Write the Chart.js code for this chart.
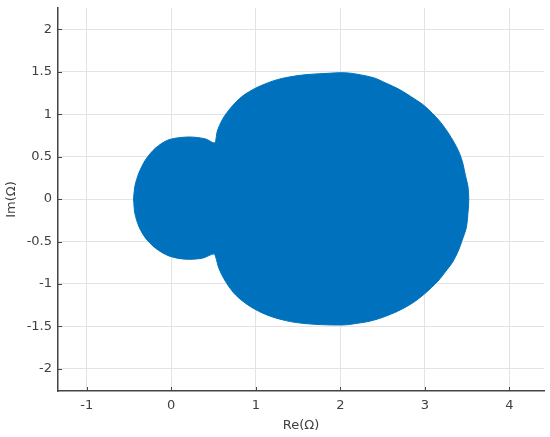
<!DOCTYPE html>
<html lang="en">
<head>
    <meta charset="UTF-8">
    <title>Re(Ω) / Im(Ω)</title>
    <script src="https://cdn.jsdelivr.net/npm/chart.js"></script>
    <style>
        body { margin: 0; padding: 0; background: #ffffff; }
        .chart-box { width: 550px; height: 437px; }
    </style>
</head>
<body>
    <div class="chart-box">
        <canvas id="omegaChart"></canvas>
    </div>

    <script>
        // Outline of the filled region (clockwise from the left end)
        const outlineRe = [
            -0.446, -0.431, -0.383, -0.304, -0.186, -0.028, 0.208, 0.406, 0.504, 0.524,
            0.544, 0.604, 0.702, 0.840, 1.018, 1.254, 1.530, 1.806, 2.083, 2.39,
            2.53, 2.70, 2.83, 2.98, 3.09, 3.19, 3.27, 3.35, 3.41, 3.45, 3.48, 3.51, 3.52,
            3.51, 3.49, 3.44, 3.40, 3.33, 3.24, 3.17, 3.08, 2.98, 2.86, 2.74, 2.61,
            2.48, 2.34, 2.22, 2.043, 1.688, 1.412, 1.155, 0.938, 0.761, 0.643, 0.563, 0.524,
            0.504, 0.367, 0.169, -0.028, -0.186, -0.304, -0.383, -0.431, -0.446
        ];
        const outlineIm = [
            0, 0.149, 0.307, 0.463, 0.601, 0.699, 0.731, 0.708, 0.660, 0.679,
            0.797, 0.935, 1.073, 1.210, 1.316, 1.406, 1.458, 1.478, 1.486, 1.43,
            1.37, 1.29, 1.21, 1.11, 1.01, 0.90, 0.79, 0.66, 0.54, 0.42, 0.28, 0.15, 0,
            -0.17, -0.34, -0.49, -0.60, -0.74, -0.86, -0.95, -1.04, -1.13, -1.22, -1.29, -1.35,
            -1.40, -1.44, -1.46, -1.482, -1.474, -1.443, -1.373, -1.267, -1.129, -0.972, -0.814, -0.677,
            -0.645, -0.696, -0.708, -0.669, -0.578, -0.460, -0.323, -0.165, 0
        ];

        // Tick labels
        const xTicks = [-1, 0, 1, 2, 3, 4];
        const yTicks = [-2, -1.5, -1, -0.5, 0, 0.5, 1, 1.5, 2];

        const points = outlineRe.map((re, i) => ({ x: re, y: outlineIm[i] }));

        const axisColor = '#444444';
        const textColor = '#404040';
        const gridColor = '#e3e3e3';

        // small inward tick marks, like the original
        const innerTicks = {
            id: 'innerTicks',
            afterDraw(chart) {
                const { ctx, chartArea, scales } = chart;
                ctx.save();
                ctx.strokeStyle = axisColor;
                ctx.lineWidth = 1;
                ctx.beginPath();
                xTicks.forEach(v => {
                    const px = Math.round(scales.x.getPixelForValue(v)) + 0.5;
                    ctx.moveTo(px, chartArea.bottom);
                    ctx.lineTo(px, chartArea.bottom - 4);
                });
                yTicks.forEach(v => {
                    const py = Math.round(scales.y.getPixelForValue(v)) + 0.5;
                    ctx.moveTo(chartArea.left, py);
                    ctx.lineTo(chartArea.left + 4, py);
                });
                ctx.stroke();
                ctx.restore();
            }
        };

        const ctx = document.getElementById('omegaChart').getContext('2d');
        new Chart(ctx, {
            type: 'scatter',
            data: {
                datasets: [{
                    label: 'Ω',
                    data: points,
                    showLine: true,
                    fill: 'shape',
                    tension: 0.3,
                    borderColor: '#0072BD',
                    backgroundColor: '#0072BD',
                    borderWidth: 1,
                    pointRadius: 0
                }]
            },
            options: {
                responsive: true,
                maintainAspectRatio: false,
                animation: false,
                layout: { padding: { top: 8, right: 6, left: 0, bottom: 0 } },
                plugins: {
                    legend: { display: false },
                    tooltip: { enabled: false }
                },
                scales: {
                    x: {
                        type: 'linear',
                        min: -1.34,
                        max: 4.41,
                        afterBuildTicks: s => { s.ticks = xTicks.map(v => ({ value: v })); },
                        afterFit: s => { s.height = 46; s.paddingLeft = 0; s.paddingRight = 0; },
                        grid: { color: gridColor, drawTicks: false },
                        border: { display: true, color: axisColor, width: 1.5 },
                        ticks: {
                            color: textColor,
                            padding: 7,
                            font: { family: 'DejaVu Sans', size: 13 },
                            callback: v => String(v)
                        },
                        title: {
                            display: true,
                            text: 'Re(Ω)',
                            color: textColor,
                            padding: { top: 0, bottom: 4 },
                            font: { family: 'DejaVu Sans', size: 13 }
                        }
                    },
                    y: {
                        type: 'linear',
                        min: -2.26,
                        max: 2.25,
                        afterBuildTicks: s => { s.ticks = yTicks.map(v => ({ value: v })); },
                        afterFit: s => { s.width = 58; s.paddingTop = 0; s.paddingBottom = 0; },
                        grid: { color: gridColor, drawTicks: false },
                        border: { display: true, color: axisColor, width: 1.5 },
                        ticks: {
                            color: textColor,
                            padding: 6,
                            font: { family: 'DejaVu Sans', size: 13 },
                            callback: v => String(v)
                        },
                        title: {
                            display: true,
                            text: 'Im(Ω)',
                            color: textColor,
                            padding: { top: 4, bottom: 0 },
                            font: { family: 'DejaVu Sans', size: 13 }
                        }
                    }
                }
            },
            plugins: [innerTicks]
        });
    </script>
</body>
</html>
